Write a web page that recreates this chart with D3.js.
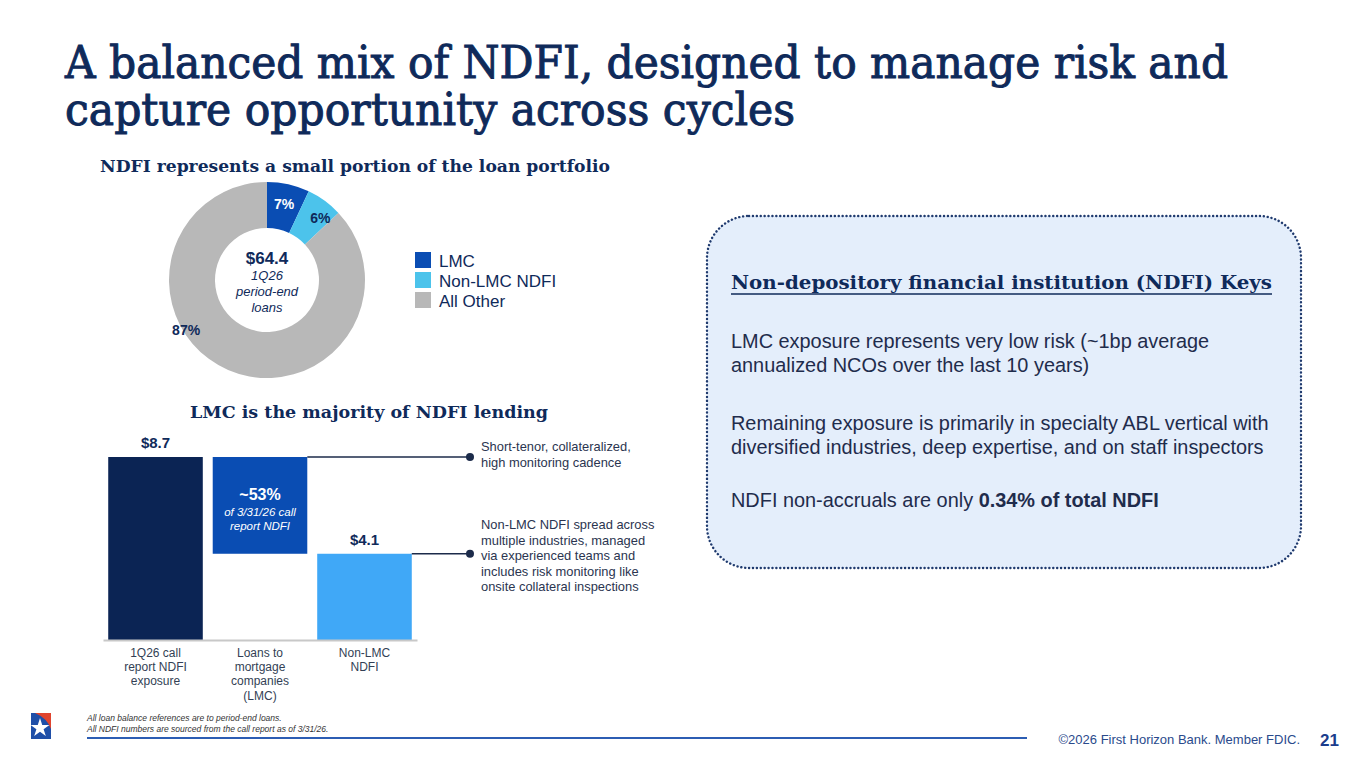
<!DOCTYPE html>
<meta charset="utf-8">
<head>
    <title>NDFI mix</title>
    <script src="https://cdn.jsdelivr.net/npm/d3@7"></script>
    <style>
        html, body { margin: 0; padding: 0; background: #ffffff; }
        svg { display: block; }
        .serif { font-family: "DejaVu Serif", serif; }
        .sans { font-family: "Liberation Sans", Arial, sans-serif; }
    </style>
</head>
<body>
<div id="slide"></div>
<script>
    // donut data
    var donutLabels = ["LMC", "Non-LMC NDFI", "All Other"];
    var donutShares = [7, 6, 87];
    var donutColors = ["#0a4db3", "#4cc3eb", "#b8b8b8"];
    var donutTotal = "$64.4";

    // waterfall bar data ($B)
    var barCategories = ["1Q26 call report NDFI exposure", "Loans to mortgage companies (LMC)", "Non-LMC NDFI"];
    var barWrapped = [["1Q26 call", "report NDFI", "exposure"], ["Loans to", "mortgage", "companies", "(LMC)"], ["Non-LMC", "NDFI"]];
    var barStart = [0, 4.1, 0];
    var barEnd = [8.7, 8.7, 4.1];
    var barLabels = ["$8.7", null, "$4.1"];
    var barColors = ["#0b2454", "#0a4db3", "#40a8f7"];

    var notes = [
        ["Short-tenor, collateralized,", "high monitoring cadence"],
        ["Non-LMC NDFI spread across", "multiple industries, managed", "via experienced teams and", "includes risk monitoring like", "onsite collateral inspections"]
    ];

    var navy = "#0f2a5a";
    var width = 1365, height = 768;

    var svg = d3.select("#slide").append("svg")
        .attr("width", width)
        .attr("height", height);

    // title (a light stroke thickens DejaVu Serif towards the slab look)
    var title = svg.append("g").attr("class", "serif")
        .attr("fill", navy).attr("stroke", navy).attr("stroke-width", 1);
    title.append("text").attr("x", 65).attr("y", 78)
        .attr("font-size", 44)
        .attr("textLength", 1163).attr("lengthAdjust", "spacingAndGlyphs")
        .text("A balanced mix of NDFI, designed to manage risk and");
    title.append("text").attr("x", 65).attr("y", 125)
        .attr("font-size", 44)
        .attr("textLength", 730).attr("lengthAdjust", "spacingAndGlyphs")
        .text("capture opportunity across cycles");

    svg.append("text").attr("class", "serif")
        .attr("x", 100).attr("y", 172)
        .attr("font-size", 17).attr("font-weight", "bold").attr("fill", navy)
        .attr("textLength", 510).attr("lengthAdjust", "spacingAndGlyphs")
        .text("NDFI represents a small portion of the loan portfolio");

    // ---- donut ----
    var cx = 267, cy = 280, rOuter = 98, rInner = 52;
    var pie = d3.pie().sort(null).value(function(d) { return d; });
    var arc = d3.arc().innerRadius(rInner).outerRadius(rOuter);
    var arcs = pie(donutShares);

    var donut = svg.append("g").attr("transform", "translate(" + cx + "," + cy + ")");
    donut.selectAll("path")
        .data(arcs)
        .enter()
        .append("path")
        .attr("d", arc)
        .attr("fill", function(d, i) { return donutColors[i]; });

    // label radius and angle nudge per slice
    var labelRadius = [78, 82, 95];
    var labelNudge = [0, 0.08, 0];
    donut.selectAll("text.pct")
        .data(arcs)
        .enter()
        .append("text")
        .attr("class", "pct sans")
        .attr("transform", function(d, i) {
            var r = labelRadius[i];
            var a = (d.startAngle + d.endAngle) / 2 + labelNudge[i];
            if (i == 2) a = 4.16;   // 87% sits low on the left of the ring
            var c = d3.arc().innerRadius(r).outerRadius(r).centroid({startAngle: a, endAngle: a});
            return "translate(" + c[0] + "," + (c[1] + 5) + ")";
        })
        .attr("text-anchor", "middle")
        .attr("font-size", 14).attr("font-weight", "bold")
        .attr("fill", function(d, i) { return i == 0 ? "#ffffff" : navy; })
        .text(function(d, i) { return donutShares[i] + "%"; });

    var centre = donut.append("g").attr("class", "sans").attr("text-anchor", "middle").attr("fill", navy);
    centre.append("text").attr("y", -16).attr("font-size", 17).attr("font-weight", "bold").text(donutTotal);
    ["1Q26", "period-end", "loans"].forEach(function(t, i) {
        centre.append("text").attr("y", 0 + i * 16).attr("font-size", 13).attr("font-style", "italic").text(t);
    });

    // legend
    var legend = svg.append("g").attr("transform", "translate(415,252)");
    var lg = legend.selectAll("g")
        .data(donutLabels)
        .enter()
        .append("g")
        .attr("transform", function(d, i) { return "translate(0," + i * 20 + ")"; });
    lg.append("rect").attr("width", 16).attr("height", 16)
        .attr("fill", function(d, i) { return donutColors[i]; });
    lg.append("text").attr("class", "sans")
        .attr("x", 24).attr("y", 15)
        .attr("font-size", 17).attr("fill", navy)
        .text(function(d) { return d; });

    // ---- waterfall bars ----
    svg.append("text").attr("class", "serif")
        .attr("x", 369).attr("y", 418).attr("text-anchor", "middle")
        .attr("font-size", 17).attr("font-weight", "bold").attr("fill", navy)
        .attr("textLength", 358).attr("lengthAdjust", "spacingAndGlyphs")
        .text("LMC is the majority of NDFI lending");

    var x = d3.scaleBand().domain(barCategories).range([103, 417]).paddingInner(0.095).paddingOuter(0.05);
    var y = d3.scaleLinear().domain([0, 8.7]).range([640, 457]);

    var bars = svg.append("g");
    bars.selectAll("rect")
        .data(barCategories)
        .enter()
        .append("rect")
        .attr("x", function(d) { return x(d); })
        .attr("width", x.bandwidth())
        .attr("y", function(d, i) { return y(barEnd[i]); })
        .attr("height", function(d, i) { return y(barStart[i]) - y(barEnd[i]); })
        .attr("fill", function(d, i) { return barColors[i]; });

    // baseline axis
    var axis = svg.append("g").attr("transform", "translate(0," + y(0) + ")")
        .call(d3.axisBottom(x).tickSize(0).tickFormat(""));
    axis.select(".domain").attr("stroke", "#c8c8c8").attr("stroke-width", 2);

    // category labels
    barCategories.forEach(function(c, i) {
        var t = svg.append("text").attr("class", "sans")
            .attr("x", x(c) + x.bandwidth() / 2).attr("text-anchor", "middle")
            .attr("font-size", 12).attr("fill", "#333f55");
        barWrapped[i].forEach(function(line, j) {
            t.append("tspan").attr("x", x(c) + x.bandwidth() / 2).attr("y", 657 + j * 14.2).text(line);
        });
    });

    // value labels
    barCategories.forEach(function(c, i) {
        if (!barLabels[i]) return;
        svg.append("text").attr("class", "sans")
            .attr("x", x(c) + x.bandwidth() / 2).attr("y", y(barEnd[i]) - 9)
            .attr("text-anchor", "middle")
            .attr("font-size", 15).attr("font-weight", "bold").attr("fill", navy)
            .text(barLabels[i]);
    });

    // in-bar label for LMC
    var mid = x(barCategories[1]) + x.bandwidth() / 2;
    var inbar = svg.append("g").attr("class", "sans").attr("fill", "#ffffff").attr("text-anchor", "middle");
    inbar.append("text").attr("x", mid).attr("y", 500).attr("font-size", 16).attr("font-weight", "bold").text("~53%");
    inbar.append("text").attr("x", mid).attr("y", 516).attr("font-size", 11.5).attr("font-style", "italic").text("of 3/31/26 call");
    inbar.append("text").attr("x", mid).attr("y", 530).attr("font-size", 11.5).attr("font-style", "italic").text("report NDFI");

    // connectors + notes
    var connY = [y(barEnd[1]), y(barEnd[2])];
    var connX0 = [x(barCategories[1]) + x.bandwidth(), x(barCategories[2]) + x.bandwidth()];
    var noteY = [451, 529];
    connY.forEach(function(cyv, i) {
        svg.append("line")
            .attr("x1", connX0[i]).attr("x2", 470)
            .attr("y1", cyv).attr("y2", cyv)
            .attr("stroke", "#1c2b4a").attr("stroke-width", 1.5);
        svg.append("circle").attr("cx", 470).attr("cy", cyv).attr("r", 4).attr("fill", "#1c2b4a");
        var t = svg.append("text").attr("class", "sans").attr("font-size", 12.9).attr("fill", "#2b3550");
        notes[i].forEach(function(line, j) {
            t.append("tspan").attr("x", 481).attr("y", noteY[i] + j * 15.6).text(line);
        });
    });

    // ---- right key box ----
    svg.append("rect")
        .attr("x", 707).attr("y", 216).attr("width", 594).attr("height", 352)
        .attr("rx", 42).attr("ry", 42)
        .attr("fill", "#e4eefb")
        .attr("stroke", "#1f3a6e").attr("stroke-width", 2.4)
        .attr("stroke-dasharray", "0.1 3.8").attr("stroke-linecap", "round");

    svg.append("text").attr("class", "serif")
        .attr("x", 731).attr("y", 289)
        .attr("font-size", 18).attr("font-weight", "bold").attr("fill", navy)
        .attr("textLength", 541).attr("lengthAdjust", "spacingAndGlyphs")
        .text("Non-depository financial institution (NDFI) Keys");
    svg.append("line").attr("x1", 731).attr("x2", 1272).attr("y1", 294).attr("y2", 294)
        .attr("stroke", navy).attr("stroke-width", 1.3);

    var keyLines = [
        [348, "LMC exposure represents very low risk (~1bp average"],
        [372, "annualized NCOs over the last 10 years)"],
        [430, "Remaining exposure is primarily in specialty ABL vertical with"],
        [454, "diversified industries, deep expertise, and on staff inspectors"]
    ];
    keyLines.forEach(function(k) {
        svg.append("text").attr("class", "sans")
            .attr("x", 731).attr("y", k[0])
            .attr("font-size", 19.9).attr("fill", "#1f2c4c")
            .text(k[1]);
    });
    var last = svg.append("text").attr("class", "sans")
        .attr("x", 731).attr("y", 507).attr("font-size", 19.9).attr("fill", "#1f2c4c");
    last.append("tspan").text("NDFI non-accruals are only ");
    last.append("tspan").attr("font-weight", "bold").text("0.34% of total NDFI");

    // ---- footer ----
    var logo = svg.append("g").attr("transform", "translate(31,713)");
    logo.append("rect").attr("width", 20).attr("height", 26).attr("fill", "#1f4fa8");
    logo.append("path").attr("d", "M4,0 L20,0 L20,16 Q16,5 4,0 Z").attr("fill", "#e0442e");
    logo.append("path")
        .attr("d", d3.symbol().type(d3.symbolStar).size(110)())
        .attr("transform", "translate(9,15)")
        .attr("fill", "#ffffff");

    var foot = svg.append("g").attr("class", "sans").attr("font-size", 8.5).attr("font-style", "italic").attr("fill", "#333");
    foot.append("text").attr("x", 87).attr("y", 721).text("All loan balance references are to period-end loans.");
    foot.append("text").attr("x", 87).attr("y", 732).text("All NDFI numbers are sourced from the call report as of 3/31/26.");

    svg.append("line").attr("x1", 87).attr("x2", 1027).attr("y1", 738).attr("y2", 738)
        .attr("stroke", "#2c5db3").attr("stroke-width", 2.2);

    svg.append("text").attr("class", "sans")
        .attr("x", 1300).attr("y", 744).attr("text-anchor", "end")
        .attr("font-size", 13).attr("fill", "#2a4a8c")
        .text("©2026 First Horizon Bank. Member FDIC.");
    svg.append("text").attr("class", "sans")
        .attr("x", 1320).attr("y", 746)
        .attr("font-size", 17).attr("font-weight", "bold").attr("fill", "#1b3c8c")
        .text("21");
</script>
</body>
</html>
